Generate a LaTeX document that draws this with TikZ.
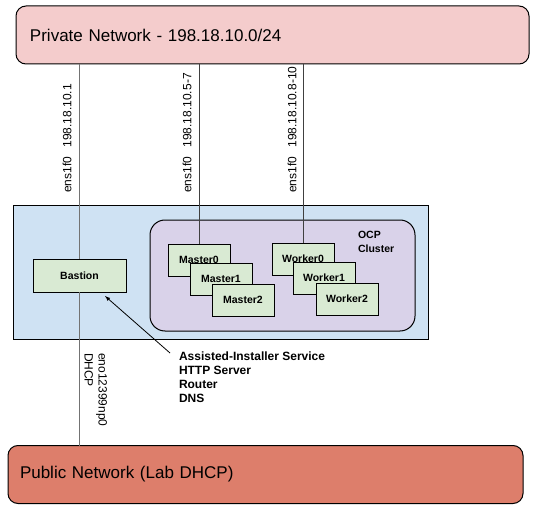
\documentclass[tikz,border=0pt]{standalone}
\usepackage{fontspec}
\setmainfont{Liberation Sans}
\usetikzlibrary{positioning}
\definecolor{mypink}{RGB}{244,204,204}
\definecolor{myred}{RGB}{221,126,107}
\definecolor{mybluei}{RGB}{207,226,243}
\definecolor{mypurple}{RGB}{217,210,233}
\definecolor{mygreen}{RGB}{217,234,211}
\begin{document}
\begin{tikzpicture}[x=1pt,y=-1pt,outer sep=0pt,
	netb/.style={
		draw=black,
		line width=1pt,
		rounded corners=10pt,
		minimum height=58pt,
		font={\fontsize{17}{20}\selectfont},
		align=left},
	hostb/.style={
		draw=black,
		fill=mygreen,
		line width=1pt,
		inner sep=0pt,
		minimum width=62pt,
		minimum height=32pt,
		font={\bfseries\fontsize{10.5}{12}\selectfont}},
	vlab/.style={inner sep=0pt,font={\fontsize{12}{14}\selectfont}},
	wire/.style={draw=black!75,line width=1pt},
	]
	\useasboundingbox (0,0) rectangle (547,511);
	\node[netb, fill=mypink, minimum width=513pt, inner xsep=14pt, text width=485pt] (Private) at (272.5,35) {Private Network - 198.18.10.0/24};
	\node[netb, fill=myred, minimum width=515pt, inner xsep=12pt, text width=491pt] (Public) at (265.5,474.5) {Public Network (Lab DHCP)};
	\node[draw=black, line width=1pt, fill=mybluei, minimum width=415pt, minimum height=134pt] (Lab) at (220.5,272) {};
	\node[draw=black, line width=1pt, fill=mypurple, rounded corners=15pt, minimum width=265pt, minimum height=111pt] (OCP) at (282.5,275.5) {};
	\node[anchor=north west, inner sep=0pt, align=left, font={\bfseries\fontsize{10.5}{14}\selectfont}] (OCPL) at (358,231) {OCP\\Cluster};

	\node[hostb, minimum width=93pt, minimum height=33pt] (Bastion) at (79.5,275.5) {Bastion};
	\node[hostb] (M0) at (199,260) {Master0};
	\node[hostb] (M1) at (221,279) {Master1};
	\node[hostb] (M2) at (243,300) {Master2};
	\node[hostb] (W0) at (303,259) {Worker0};
	\node[hostb] (W1) at (324,278) {Worker1};
	\node[hostb] (W2) at (347,299) {Worker2};

	\draw[wire,draw=black!55] (Bastion.north) -- (Bastion.north |- Private.south);
	\draw[wire] (M0.north) -- (M0.north |- Private.south);
	\draw[wire] (W0.north) -- (W0.north |- Private.south);
	\draw[wire,draw=black!55] (Bastion.south) -- (Bastion.south |- Public.north);

	\node[vlab, rotate=90, anchor=west] (L1) at (67,193) {ens1f0\hspace{0.8em}198.18.10.1};
	\node[vlab, rotate=90, anchor=west] (L2) at (187,193) {ens1f0\hspace{0.8em}198.18.10.5-7};
	\node[vlab, rotate=90, anchor=west] (L3) at (292,193) {ens1f0\hspace{0.8em}198.18.10.8-10};
	\node[vlab, rotate=-90, anchor=north west, align=left] (L4) at (107,353) {eno12399np0\\DHCP};

	\node[anchor=north west, inner sep=0pt, align=left, font={\bfseries\fontsize{12}{14}\selectfont}] (Svc) at (179,352)
		{Assisted-Installer Service\\HTTP Server\\Router\\DNS};
	\coordinate (BastionTip) at (105,296);
	\draw[-latex, line width=0.8pt] ([xshift=-9pt,yshift=-1pt]Svc.north west) -- (BastionTip);
\end{tikzpicture}
\end{document}
